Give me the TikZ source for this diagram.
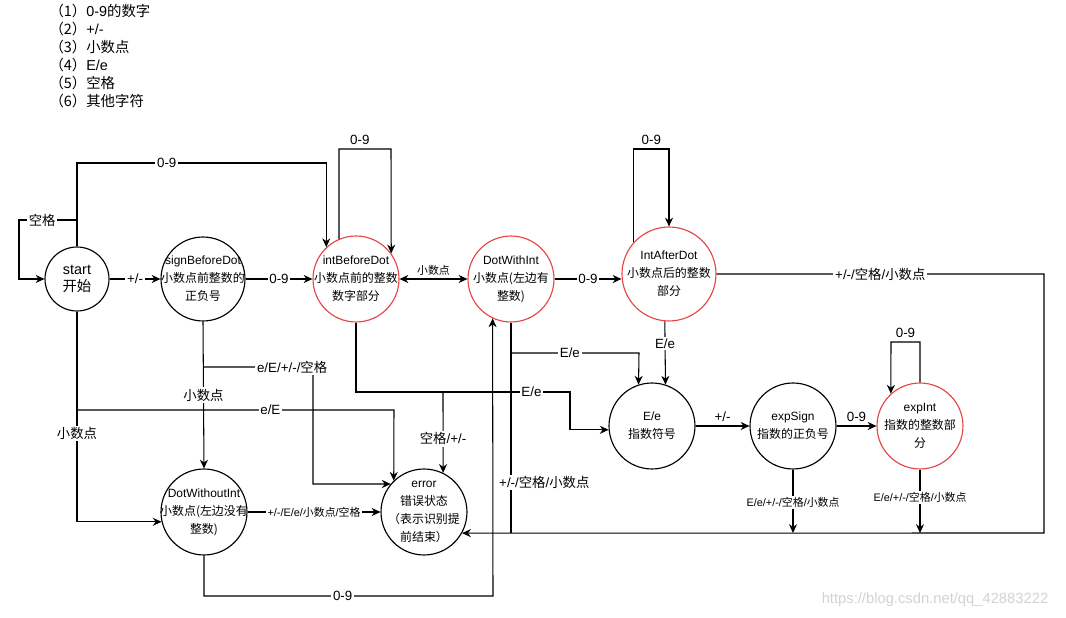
\documentclass[tikz,border=0pt]{standalone}
\usepackage{fontspec}
\setmainfont{Liberation Sans}
\newfontfamily\cjk{Noto Sans CJK SC}
\newcommand{\zh}[1]{{\cjk #1}}
\usetikzlibrary{arrows.meta}
\definecolor{accred}{RGB}{230,70,70}
\tikzset{
  >={Stealth[length=5pt,width=4.6pt]},
  state/.style={circle,draw,line width=0.65pt,inner sep=-12pt,minimum size=1.72cm,align=center,font=\fontsize{6.8}{10.2}\selectfont},
  acc/.style={state,draw=accred},
  lbl/.style={fill=white,inner sep=1pt,font=\fontsize{7.6}{9}\selectfont},
  slbl/.style={lbl,font=\fontsize{6.2}{8}\selectfont},
  legend/.style={inner sep=0pt,anchor=base west,font=\fontsize{8.2}{9}\selectfont},
}
\begin{document}
\begin{tikzpicture}[x=0.02cm,y=-0.02cm,line width=0.6pt]
\useasboundingbox (0,0) rectangle (1066,618);
\foreach \t [count=\i] in {{\zh{（1）}0-9\zh{的数字}},{\zh{（2）}+/-},{\zh{（3）小数点}},{\zh{（4）}E/e},{\zh{（5）空格}},{\zh{（6）其他字符}}}
  \node[legend] (type\i) at (49,{-1+18*\i}) {\t};

\node[state,minimum size=1.28cm,font=\fontsize{8.2}{9.6}\selectfont] (start) at (77,279) {start\\\zh{开始}};
\node[state,minimum size=1.68cm] (signBeforeDot) at (203,279) {signBeforeDot\\\zh{小数点前整数的}\\\zh{正负号}};
\node[acc] (intBeforeDot) at (356,279) {intBeforeDot\\\zh{小数点前的整数}\\\zh{数字部分}};
\node[acc] (dotWithInt) at (511,279) {DotWithInt\\\zh{小数点(左边有}\\\zh{整数)}};
\node[acc,minimum size=1.88cm] (intAfterDot) at (669,274) {IntAfterDot\\\zh{小数点后的整数}\\\zh{部分}};
\node[state] (expE) at (652,426) {E/e\\\zh{指数符号}};
\node[state] (expSign) at (793,426) {expSign\\\zh{指数的正负号}};
\node[acc] (expInt) at (920,426) {expInt\\\zh{指数的整数部}\\\zh{分}};
\node[state] (dotWithoutInt) at (204,512) {DotWithoutInt\\\zh{小数点(左边没有}\\\zh{整数)}};
\node[state] (error) at (424,512) {error\\\zh{错误状态}\\\zh{（表示识别提}\\\zh{前结束）}};

\coordinate (startSplit) at (77,410);
\coordinate (sbdSplit) at (203,367);
\coordinate (ibdSplit) at (443,392);
\coordinate (dwiSplit) at (511,353);
\coordinate (bottomRight) at (1044,533);

\draw[->] (start.north) -- (77,163) -| node[lbl,pos=0.18]{0-9} (intBeforeDot.133);
\draw[->] (77,220) -- node[lbl,pos=0.6]{\zh{空格}} (19,220) |- (start.west);
\draw[->] (start.east) -- node[lbl]{+/-} (signBeforeDot.west);
\draw[->] (signBeforeDot.east) -- node[lbl]{0-9} (intBeforeDot.west);
\draw[->] (intBeforeDot.113) |- node[pos=0.7,above=1pt,lbl,fill=none]{0-9} (391,149) -- (intBeforeDot.36);
\draw[<->] (intBeforeDot.east) -- node[above=1pt,slbl,fill=none]{\zh{小数点}} (dotWithInt.west);
\draw[->] (dotWithInt.east) -- node[lbl]{0-9} (dotWithInt.east -| intAfterDot.west);
\draw[->] (intAfterDot.138) |- node[pos=0.75,above=1pt,lbl,fill=none]{0-9} (669,149) -- (intAfterDot.north);
\draw[->] (intAfterDot.east) -- node[lbl]{+/-/\zh{空格}/\zh{小数点}} (intAfterDot.east -| bottomRight) -- (bottomRight) -- (error.-29);
\draw (dotWithInt.south) -- node[lbl,pos=0.76,anchor=west,xshift=-8pt]{+/-/\zh{空格}/\zh{小数点}} (511,533);
\draw[->] (dwiSplit) -- node[lbl,pos=0.46]{E/e} (639,353) -- (expE.108);
\draw[->] (intBeforeDot.south) |- node[lbl,pos=0.91]{E/e} (570,392) |- (expE.185);
\draw[->] (ibdSplit) -- node[lbl,pos=0.58]{\zh{空格}/+/-} (error.64);
\draw[->] (signBeforeDot.south) -- node[lbl]{\zh{小数点}} (dotWithoutInt.north);
\draw[->] (sbdSplit) -- node[lbl,pos=0.81]{e/E/+/-/\zh{空格}} (313,367) -- (313,484) -- (error.140);
\draw[->] (start.south) |- node[lbl,pos=0.29]{\zh{小数点}} (dotWithoutInt.193);
\draw[->] (startSplit) -- node[lbl,pos=0.61]{e/E} (394,410) -- (error.134);
\draw[->] (dotWithoutInt.east) -- node[slbl]{+/-/E/e/\zh{小数点}/\zh{空格}} (error.west);
\draw[->] (dotWithoutInt.south) |- node[lbl,pos=0.74]{0-9} (493,596) -- (dotWithInt.245);
\draw[->] (intAfterDot.265) -- node[lbl,pos=0.35]{E/e} (expE.72);
\draw[->] (expE.east) -- node[above=1pt,lbl,fill=none]{+/-} (expSign.west);
\draw[->] (expSign.east) -- node[above=1pt,lbl,fill=none]{0-9} (expInt.west);
\draw[->] (expInt.north) |- node[pos=0.75,above=1pt,lbl,fill=none]{0-9} (891,342) -- (expInt.132);
\draw[->] (expSign.south) -- node[slbl,pos=0.52]{E/e/+/-/\zh{空格}/\zh{小数点}} (793,533);
\draw[->] (expInt.south) -- node[slbl,pos=0.44]{E/e/+/-/\zh{空格}/\zh{小数点}} (920,533);

\node[text=gray!35,font=\fontsize{8.4}{9}\selectfont] (mark) at (935,600) {https://blog.csdn.net/qq\_42883222};
\end{tikzpicture}
\end{document}
